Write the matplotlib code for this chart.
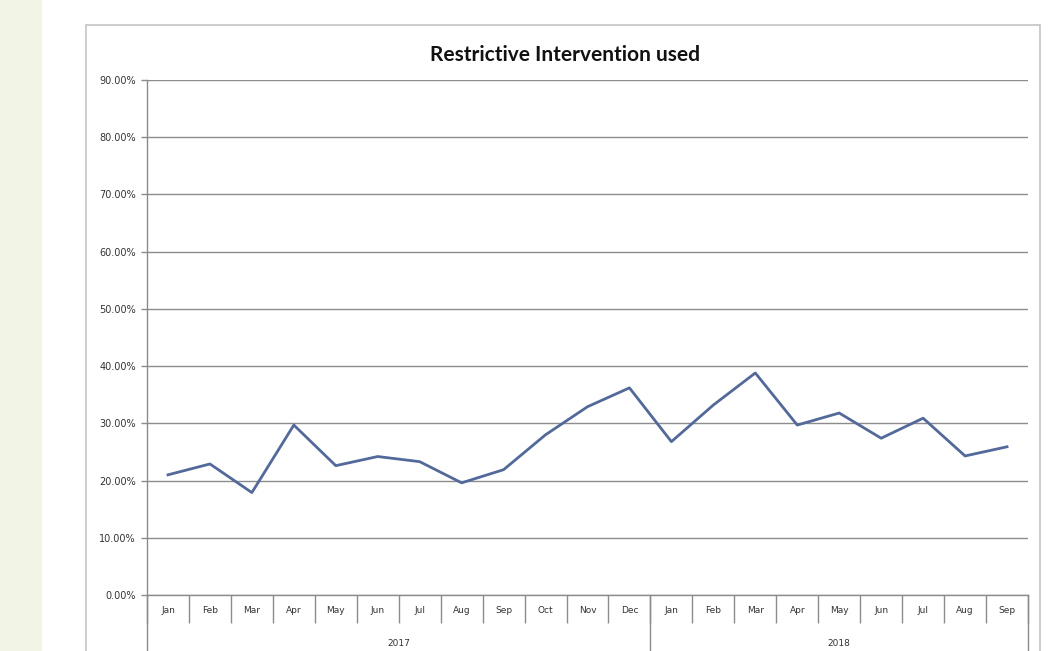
import matplotlib
matplotlib.use("Agg")
import matplotlib.pyplot as plt
import matplotlib.transforms as mtransforms
from matplotlib.patches import Rectangle
from matplotlib.ticker import PercentFormatter, FixedLocator

# Data
months = ["Jan", "Feb", "Mar", "Apr", "May", "Jun", "Jul", "Aug", "Sep", "Oct", "Nov", "Dec",
          "Jan", "Feb", "Mar", "Apr", "May", "Jun", "Jul", "Aug", "Sep"]
years = ["2017", "2018"]
year_spans = [(0, 11), (12, 20)]
values = [0.210, 0.229, 0.179, 0.297, 0.226, 0.242, 0.233, 0.196, 0.219, 0.280, 0.329, 0.362,
          0.268, 0.332, 0.388, 0.297, 0.318, 0.274, 0.309, 0.243, 0.259]
y_ticks = [i / 10 for i in range(10)]

line_color = "#52699a"
grid_color = "#8c8c8c"
axis_color = "#8c8c8c"

fig = plt.figure(figsize=(10.48, 6.51), dpi=100)
fig.patch.set_facecolor("white")

# page strip on the left and the chart's outer border
fig.patches.append(Rectangle((0, 0), 42 / 1048, 1, transform=fig.transFigure,
                             facecolor="#f2f4e6", edgecolor="none", zorder=-2))
fig.patches.append(Rectangle((86 / 1048, -0.05), (1040 - 86) / 1048, 1.05 - 25 / 651,
                             transform=fig.transFigure, facecolor="white",
                             edgecolor="#c4c4c4", linewidth=1.2, zorder=-2))

ax = fig.add_axes([147 / 1048, 1 - 595 / 651, (1028 - 147) / 1048, (595 - 80) / 651])
ax.set_facecolor("none")

x = list(range(len(months)))
ax.plot(x, values, color=line_color, linewidth=2, zorder=3)

ax.set_xlim(-0.5, len(months) - 0.5)
ax.set_ylim(0, 0.9)

# gridlines
ax.set_yticks(y_ticks)
ax.yaxis.set_major_formatter(PercentFormatter(1.0, decimals=2))
ax.grid(axis="y", color=grid_color, linewidth=1)
ax.set_axisbelow(True)

for s in ["top", "right"]:
    ax.spines[s].set_visible(False)
for s in ["left", "bottom"]:
    ax.spines[s].set_color(axis_color)
    ax.spines[s].set_linewidth(1)

ax.tick_params(axis="y", length=4, width=1, color=axis_color, labelsize=7,
               labelcolor="#333333", pad=4)

# month labels with separators between categories
ax.set_xticks(x)
ax.set_xticklabels(months)
ax.tick_params(axis="x", which="major", length=0, labelsize=6.5, labelcolor="#333333", pad=8)
ax.xaxis.set_minor_locator(FixedLocator([i - 0.5 for i in range(len(months) + 1)]))
ax.tick_params(axis="x", which="minor", length=20, width=1, color=axis_color)

# year group labels and dividers
trans = mtransforms.blended_transform_factory(ax.transData, ax.transAxes)
bounds = sorted({s - 0.5 for s, e in year_spans} | {e + 0.5 for s, e in year_spans})
for b in bounds:
    ax.plot([b, b], [0, -0.11], transform=trans, color=axis_color, linewidth=1, clip_on=False)
for label, (s, e) in zip(years, year_spans):
    ax.text((s + e) / 2, -0.095, label, transform=trans, ha="center", va="center",
            fontsize=6.5, color="#333333")

fig.text(565 / 1048, 1 - 55 / 651, "Restrictive Intervention used", ha="center", va="center",
         fontsize=15, fontweight="bold", family="Lato", color="#111111")

fig.savefig("out.png", dpi=100)
